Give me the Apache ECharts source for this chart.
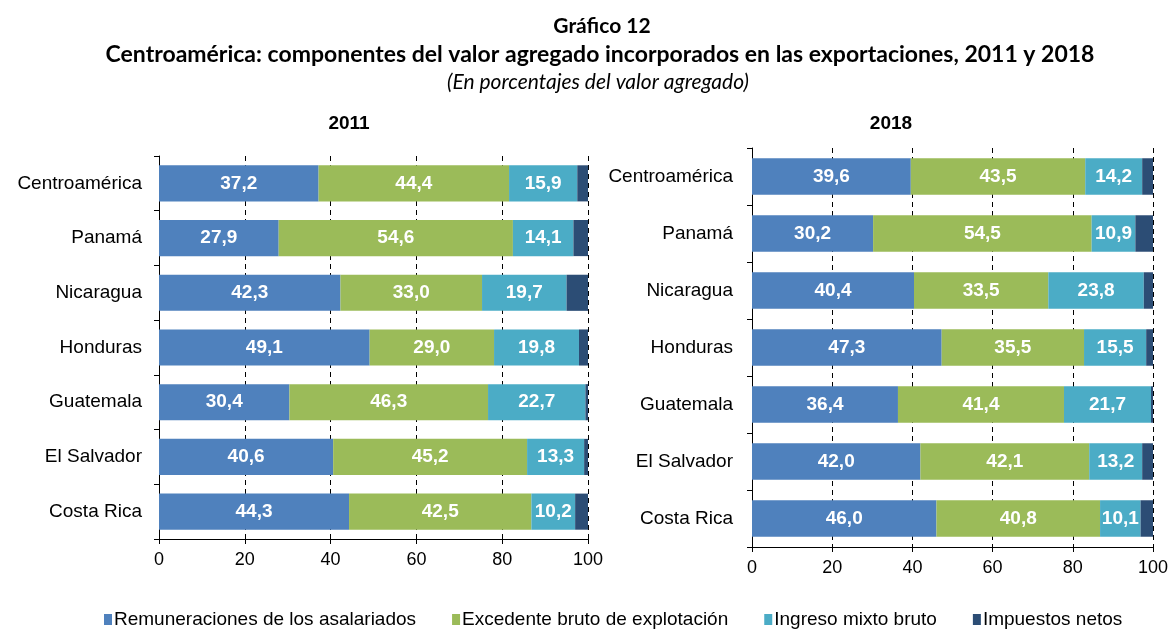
<!DOCTYPE html>
<html>
<head>
<meta charset="utf-8">
<script src="https://cdn.jsdelivr.net/npm/echarts@6/dist/echarts.min.js"></script>
<style>
  html, body { margin: 0; padding: 0; background: #fff; }
  #chart { width: 1172px; height: 629px; }
</style>
</head>
<body>
<div id="chart"></div>
<script>
// categorias (de arriba hacia abajo)
const countries = ['Centroamérica', 'Panamá', 'Nicaragua', 'Honduras', 'Guatemala', 'El Salvador', 'Costa Rica']
const seriesNames = ['Remuneraciones de los asalariados', 'Excedente bruto de explotación', 'Ingreso mixto bruto', 'Impuestos netos']
const colors = ['#4f81bd', '#9bbb59', '#4bacc6', '#2c4d75']
const xTicks = [0, 20, 40, 60, 80, 100]

// 2011
const rem2011 = [37.2, 27.9, 42.3, 49.1, 30.4, 40.6, 44.3]
const exc2011 = [44.4, 54.6, 33.0, 29.0, 46.3, 45.2, 42.5]
const ing2011 = [15.9, 14.1, 19.7, 19.8, 22.7, 13.3, 10.2]
const imp2011 = [2.5, 3.4, 5.0, 2.1, 0.6, 0.9, 3.0]

// 2018
const rem2018 = [39.6, 30.2, 40.4, 47.3, 36.4, 42.0, 46.0]
const exc2018 = [43.5, 54.5, 33.5, 35.5, 41.4, 42.1, 40.8]
const ing2018 = [14.2, 10.9, 23.8, 15.5, 21.7, 13.2, 10.1]
const imp2018 = [2.7, 4.4, 2.3, 1.7, 0.5, 2.7, 3.1]

const FONT = 'Arial, "Liberation Sans", sans-serif'
const TITLE_FONT = 'Lato, "Open Sans", sans-serif'

const xAxisFor = (gridIndex) => ({
  type: 'value',
  gridIndex,
  min: xTicks[0],
  max: xTicks[xTicks.length - 1],
  interval: 20,
  axisLine: { show: true, lineStyle: { color: '#000', width: 1 } },
  axisTick: { show: true, length: 5, lineStyle: { color: '#000' } },
  axisLabel: { color: '#000', fontSize: 18, fontFamily: FONT, margin: 12 },
  splitLine: { show: true, lineStyle: { color: '#000', type: [5, 4], width: 1 } }
})

const yAxisFor = (gridIndex, margin) => ({
  type: 'category',
  gridIndex,
  data: countries,
  inverse: true,
  axisLine: { show: true, lineStyle: { color: '#000', width: 1 } },
  axisTick: { show: true, length: 5, lineStyle: { color: '#000' } },
  axisLabel: { color: '#000', fontSize: 19, fontFamily: FONT, margin }
})

const fmt = (p) => p.value.toFixed(1).replace('.', ',')

const makeSeries = (data, idx, axisIndex, gap) => ({
  name: seriesNames[idx],
  type: 'bar',
  stack: 'total' + axisIndex,
  xAxisIndex: axisIndex,
  yAxisIndex: axisIndex,
  data,
  barCategoryGap: gap,
  itemStyle: { color: colors[idx] },
  label: {
    show: idx < 3,
    position: 'inside',
    color: '#fff',
    fontSize: 19,
    fontWeight: 'bold',
    fontFamily: FONT,
    formatter: fmt
  },
  emphasis: { disabled: true }
})

const chart = echarts.init(document.getElementById('chart'))

chart.setOption({
  animation: false,
  color: colors,
  graphic: [
    { type: 'text', style: { text: 'Gráfico 12', x: 602, y: 26, align: 'center', verticalAlign: 'middle', fill: '#000', font: 'bold 21px ' + TITLE_FONT } },
    { type: 'text', style: { text: 'Centroamérica: componentes del valor agregado incorporados en las exportaciones, 2011 y 2018', x: 600, y: 55, align: 'center', verticalAlign: 'middle', fill: '#000', font: 'bold 23px ' + TITLE_FONT } },
    { type: 'text', style: { text: '(En porcentajes del valor agregado)', x: 598, y: 82, align: 'center', verticalAlign: 'middle', fill: '#000', font: 'italic 21px ' + TITLE_FONT } },
    { type: 'text', style: { text: '2011', x: 349, y: 124, align: 'center', verticalAlign: 'middle', fill: '#000', font: 'bold 19px ' + FONT } },
    { type: 'text', style: { text: '2018', x: 891, y: 124, align: 'center', verticalAlign: 'middle', fill: '#000', font: 'bold 19px ' + FONT } }
  ],
  legend: {
    left: 104,
    top: 610,
    padding: 0,
    itemWidth: 8,
    itemHeight: 11,
    itemGap: 36,
    icon: 'rect',
    textStyle: { color: '#000', fontSize: 19, fontFamily: FONT, padding: [0, 0, 0, -3] },
    data: seriesNames
  },
  grid: [
    { left: 159, right: 584, top: 156, height: 383 },
    { left: 752, right: 19, top: 148, height: 399 }
  ],
  xAxis: [xAxisFor(0), xAxisFor(1)],
  yAxis: [yAxisFor(0, 17), yAxisFor(1, 19)],
  series: [
    makeSeries(rem2011, 0, 0, '34%'),
    makeSeries(exc2011, 1, 0, '34%'),
    makeSeries(ing2011, 2, 0, '34%'),
    makeSeries(imp2011, 3, 0, '34%'),
    makeSeries(rem2018, 0, 1, '36%'),
    makeSeries(exc2018, 1, 1, '36%'),
    makeSeries(ing2018, 2, 1, '36%'),
    makeSeries(imp2018, 3, 1, '36%')
  ]
})
</script>
</body>
</html>
